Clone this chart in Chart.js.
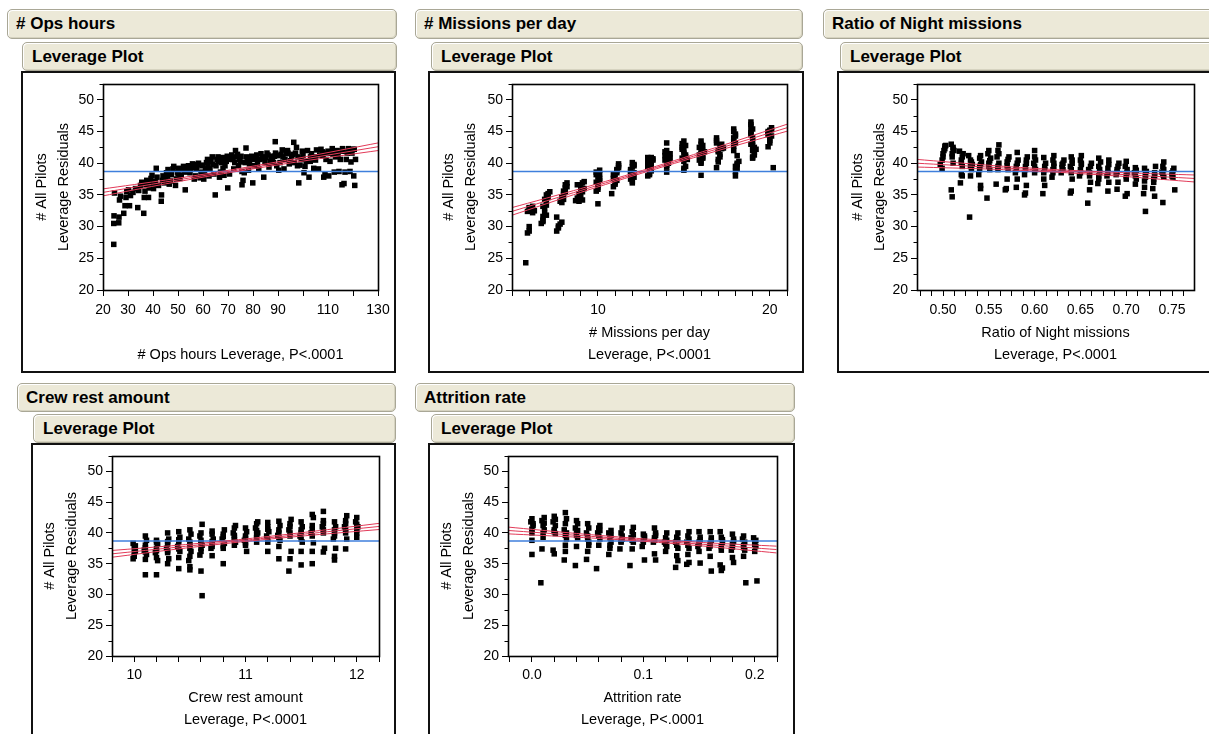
<!DOCTYPE html>
<html><head><meta charset="utf-8">
<script src="https://cdn.jsdelivr.net/npm/chart.js@4/dist/chart.umd.min.js"></script>
<style>
html,body{margin:0;padding:0}
body{width:1209px;height:734px;overflow:hidden;background:#fff;position:relative;font-family:"Liberation Sans",Arial,sans-serif}
.hdr{position:absolute;box-sizing:border-box;background:#ECE9D8;border:1px solid #a9a796;border-radius:5px;
 box-shadow:inset 1px 1px 0 #fff, inset -1px -1px 0 #d6d3c0;font-weight:bold;font-size:17px;color:#000;white-space:nowrap;overflow:hidden}
.frame{position:absolute;box-sizing:border-box;border:2px solid #111;pointer-events:none}
canvas{position:absolute}
</style>
</head><body>
<script>
// ---------- data ----------
const yTickLabels = [20, 25, 30, 35, 40, 45, 50];
const meanLine = 38.7;

// # Ops hours
const opsTickLabels = [20, 30, 40, 50, 60, 70, 80, 90, 110, 130];
const opsX = [24.3,24.3,24.4,26.3,26.4,24.6,26.6,27.0,28.3,28.8,29.2,29.5,30.2,30.6,31.0,32.0,33.0,33.9,34.3,35.0,
35.5,36.3,36.5,36.8,37.2,37.5,38.2,38.5,39.0,39.2,39.6,40.2,40.6,41.0,41.3,41.6,42.2,43.3,43.4,43.8,
44.0,44.5,45.0,45.4,46.0,46.5,47.0,47.4,48.0,48.3,49.0,49.4,49.8,50.3,50.8,51.3,51.8,52.2,52.9,53.2,
53.6,54.2,54.8,55.3,55.8,56.5,57.0,57.3,57.8,58.2,58.8,59.2,59.6,60.3,60.6,61.0,61.4,61.8,62.4,62.8,
63.2,63.7,64.9,64.4,65.2,65.6,66.0,66.6,67.0,67.4,67.8,68.4,68.8,69.3,69.7,69.9,70.6,71.0,71.5,72.3,
72.7,73.0,73.5,74.2,74.6,75.2,75.6,75.6,76.0,76.5,76.9,77.3,77.2,78.2,78.6,79.0,79.5,79.9,80.5,81.0,
81.5,82.3,82.8,83.2,83.7,84.3,84.8,85.2,85.6,86.4,86.9,87.4,88.2,88.6,89.0,88.9,89.5,90.3,90.8,91.2,
91.7,92.4,92.8,93.3,93.8,94.5,95.0,95.5,96.3,96.5,97.0,97.4,97.8,98.3,98.8,99.3,99.7,100.4,100.8,101.3,
101.8,102.4,102.9,103.4,104.3,104.8,105.4,106.2,106.7,107.2,107.7,108.3,108.8,109.2,109.7,110.3,110.8,111.3,111.7,112.5,
113.0,113.6,114.4,114.9,115.3,115.8,115.6,116.4,116.8,117.3,117.7,118.2,118.8,119.2,119.6,120.0,120.3,120.7,121.0,
45.8,50.0,52.5,55.0,57.5,60.0,62.0,64.0,66.3,68.0,70.2,72.0,73.8,75.0,77.8,80.2,81.8,84.0,
86.0,87.8,90.0,92.0,94.0,96.0,98.0,100.0,103.0,105.0,108.0,110.0,112.0,114.0,116.0,118.5,120.5];
const opsY = [27.2,30.5,31.7,30.6,31.5,35.3,34.2,34.8,32.1,33.3,34.6,35.5,35.8,33.3,34.9,35.4,36.0,33.0,35.7,36.5,
37.0,32.1,34.6,35.6,36.6,37.3,34.6,36.1,36.9,37.6,38.1,36.0,36.6,37.1,39.2,37.8,36.5,34.0,35.0,37.3,
38.0,36.9,37.5,38.5,39.0,36.7,37.2,38.2,39.1,39.5,36.5,37.5,38.6,39.2,37.6,38.1,39.0,39.5,35.8,38.6,
39.1,39.6,38.5,39.3,39.9,37.5,38.0,39.1,39.8,40.0,37.7,38.6,39.6,37.5,38.3,39.1,40.1,40.6,38.0,39.1,
40.3,41.0,35.0,38.3,39.6,40.6,41.0,37.8,38.6,40.1,40.9,38.1,39.6,40.3,41.1,36.1,38.3,40.6,41.3,39.1,
40.1,42.0,41.0,39.6,40.6,41.1,38.7,36.6,37.3,38.5,40.1,41.0,42.4,38.9,39.9,40.6,41.1,36.9,39.6,40.6,
41.3,39.1,40.6,41.5,41.0,37.8,40.1,40.9,41.6,39.4,40.3,41.1,40.1,41.1,41.6,43.4,39.6,38.9,40.1,41.4,
42.1,39.1,40.6,41.5,42.0,39.9,40.4,41.1,43.3,40.1,41.6,42.5,39.6,36.9,39.7,40.6,41.9,38.5,39.5,40.3,
42.0,37.8,40.3,41.5,39.2,41.0,42.1,39.1,41.3,42.2,41.8,37.8,38.2,40.6,41.6,38.0,40.3,41.6,42.3,38.6,
41.0,42.0,38.7,40.6,41.9,42.3,36.6,36.8,38.6,40.6,41.6,42.3,38.7,40.2,41.6,42.2,38.0,36.5,40.6,
38.0,38.3,38.9,39.0,39.5,39.7,39.6,39.8,40.3,39.2,40.7,40.6,41.4,40.2,40.5,41.0,40.0,40.8,
41.3,40.6,41.2,41.0,41.6,41.4,41.0,41.2,41.0,40.5,41.2,41.9,41.4,41.3,41.9,41.9,42.2];
const opsFitX = [20, 45, 71, 100, 130];
const opsFit = [35.40, 37.04, 38.74, 40.64, 42.60];
const opsUpper = [35.95, 37.34, 38.94, 40.94, 43.20];
const opsLower = [34.85, 36.74, 38.54, 40.34, 42.00];

// # Missions per day
const missionsTickLabels = [10, 20];
const missionsX = [5.8,5.9,6.0,6.0,5.9,6.1,6.2,6.3,6.0,
6.7,6.8,6.8,6.9,6.9,7.0,7.0,7.1,7.1,7.2,6.8,7.0,
7.6,7.7,7.8,7.9,7.6,7.8,7.9,8.0,8.0,8.1,8.1,8.2,7.9,
8.7,8.8,8.9,9.0,9.0,9.1,9.2,8.8,9.1,
10.0,9.9,10.0,10.0,10.1,10.0,10.1,9.9,10.1,9.9,
10.8,10.9,11.0,10.9,11.0,11.1,11.1,11.2,11.2,10.9,
12.0,11.9,12.0,12.1,11.9,12.0,12.1,12.0,11.9,
12.9,13.0,13.1,12.9,13.0,13.2,13.1,12.9,13.0,
14.0,14.0,14.1,13.9,14.0,14.1,13.9,14.0,14.2,
15.0,15.1,15.0,14.9,15.1,15.0,14.9,14.9,15.0,15.2,
16.0,16.0,15.9,16.1,16.0,16.1,15.9,16.0,16.0,16.2,
16.9,17.0,17.1,17.0,17.2,17.1,16.9,16.9,17.3,
18.0,18.0,18.1,18.1,18.2,17.9,17.9,18.0,17.9,18.0,17.9,18.1,
19.0,19.1,19.0,19.1,18.9,19.0,18.9,18.9,18.9,18.9,19.2,19.0,
19.9,20.0,20.0,19.9,20.0,20.1,20.2,19.9,20.1,
6.0,6.2,6.9,7.0,6.8,8.0,8.1,8.2,7.7,8.9,9.0,9.1,9.2,10.0,10.1,9.9,10.0,
11.0,11.1,11.1,11.2,12.0,12.1,11.9,12.1,13.0,13.1,13.1,12.9,13.2,
14.0,14.1,13.9,14.0,14.2,15.0,15.1,15.0,14.9,15.1,16.0,16.1,15.9,16.0,16.1,
17.0,17.1,17.0,17.2,16.9,18.0,18.1,17.9,18.0,17.9,19.0,19.1,19.0,18.9,19.0,18.9,20.0,19.9,20.1];
const missionsY = [24.3,29.0,29.3,30.0,32.4,32.8,33.2,32.5,33.0,
30.5,31.0,31.6,32.2,33.0,33.4,34.0,34.6,35.2,35.5,33.2,31.8,
29.3,29.8,30.4,30.7,31.5,34.0,34.6,35.1,35.6,36.1,36.6,36.9,33.8,
34.1,34.5,35.2,35.7,36.3,36.9,37.1,36.6,34.2,
33.6,35.6,36.2,36.8,37.3,37.8,38.3,38.6,38.9,37.0,
35.2,36.3,37.0,37.6,38.0,38.5,39.0,39.6,39.9,38.2,
36.9,37.5,38.0,38.5,39.0,39.4,39.8,40.1,38.7,
38.0,38.4,39.0,39.5,40.0,40.5,40.9,40.9,39.2,
38.6,39.4,40.0,40.5,41.0,41.5,41.8,43.2,40.8,
38.9,39.5,40.3,40.8,41.3,42.0,42.5,43.1,43.5,40.6,
38.1,40.0,40.5,41.0,41.5,42.0,42.5,43.0,43.5,41.8,
39.3,40.2,41.0,41.8,42.3,42.7,43.2,44.0,42.4,
38.0,38.7,39.2,39.8,40.3,42.0,42.7,43.2,44.0,44.6,45.4,41.2,
40.8,41.3,42.0,42.5,43.0,43.5,44.5,45.0,45.8,46.5,42.2,44.0,
42.6,43.2,44.0,44.5,45.2,45.6,39.3,45.0,44.3,
32.9,32.2,34.3,35.0,30.8,34.3,35.4,36.3,30.1,34.0,34.8,35.5,36.0,36.5,37.6,38.2,35.9,
36.7,37.3,38.8,39.3,37.2,37.8,38.3,39.6,38.2,38.8,39.8,40.3,40.7,
39.7,40.3,41.2,42.0,41.5,39.2,41.0,41.6,42.2,42.8,40.2,40.8,41.3,42.2,42.8,
40.6,41.4,42.0,43.0,43.6,39.5,40.0,43.5,44.3,45.0,41.0,41.7,42.8,44.8,45.4,46.1,43.6,44.8,45.3];
const missionsFitX = [5, 9, 13, 17, 21];
const missionsFit = [32.4, 35.7, 39.0, 42.3, 45.6];
const missionsUpper = [33.0, 36.0, 39.2, 42.6, 46.15];
const missionsLower = [31.8, 35.4, 38.8, 42.0, 45.05];

// Ratio of Night missions
const nightTickLabels = [0.50, 0.55, 0.60, 0.65, 0.70, 0.75];
const nightX = [0.497,0.499,0.500,0.501,0.502,0.503,0.499,
0.509,0.510,0.511,0.510,0.512,0.509,0.511,
0.519,0.520,0.521,0.520,0.522,0.518,0.521,
0.529,0.530,0.531,0.532,0.530,0.528,
0.541,0.541,0.539,0.540,0.542,0.540,0.541,
0.548,0.551,0.550,0.552,0.549,0.550,
0.558,0.560,0.561,0.559,0.560,0.561,
0.568,0.569,0.570,0.571,0.570,0.572,
0.580,0.581,0.579,0.580,0.582,0.581,
0.589,0.590,0.591,0.589,0.590,0.591,0.592,
0.600,0.601,0.599,0.600,0.600,
0.609,0.611,0.610,0.611,0.612,0.610,
0.619,0.620,0.621,0.620,0.621,
0.629,0.631,0.630,0.632,
0.639,0.640,0.641,0.640,0.639,0.641,0.640,
0.649,0.650,0.651,0.650,0.651,
0.658,0.660,0.661,0.660,0.659,0.662,
0.669,0.670,0.671,0.670,0.672,0.670,
0.680,0.681,0.679,0.680,0.681,
0.690,0.691,0.689,0.690,0.692,
0.699,0.701,0.700,0.701,0.699,0.700,
0.710,0.711,0.709,0.710,
0.721,0.719,0.720,0.721,0.722,0.720,
0.731,0.729,0.730,0.731,0.732,
0.740,0.741,0.739,0.740,0.741,
0.753,0.751,0.750,0.752,
0.500,0.502,0.510,0.511,0.520,0.521,0.530,0.531,0.540,0.541,0.550,0.551,0.560,0.561,0.570,0.571,0.580,0.581,0.590,0.591,0.600,0.601,
0.610,0.611,0.620,0.621,0.630,0.631,0.640,0.641,0.650,0.651,0.660,0.661,0.670,0.671,0.680,0.681,0.690,0.691,0.700,0.701,
0.710,0.711,0.720,0.721,0.730,0.731,0.740,0.741,0.750,0.751];
const nightY = [39.8,40.5,41.5,42.0,42.7,42.8,39.2,
35.8,34.7,40.0,41.0,42.0,43.0,42.5,
36.9,38.2,39.5,40.5,41.5,41.9,38.0,
31.5,38.0,39.0,39.8,40.5,41.2,
36.0,36.5,38.2,39.5,40.2,40.8,41.2,
34.5,39.0,40.0,40.8,41.5,42.0,
36.7,39.0,40.0,41.0,42.0,42.9,
35.8,36.0,37.5,39.0,40.2,41.0,
36.2,37.5,38.5,39.5,40.5,41.7,
35.0,35.3,36.5,38.2,39.0,40.5,41.0,
38.5,39.0,40.0,41.0,42.0,
35.2,36.5,37.5,39.0,40.0,40.9,
37.8,38.5,39.5,40.5,41.2,
38.5,39.0,39.8,40.5,
35.3,35.6,37.5,38.5,39.5,40.5,41.0,
38.0,39.0,39.8,40.5,41.2,
33.7,35.8,37.0,38.0,39.0,40.0,
36.8,37.5,38.5,39.5,40.2,40.8,
35.6,37.0,38.0,39.2,40.5,
35.9,37.0,38.2,39.0,40.0,
34.8,35.2,37.5,38.5,39.5,40.3,
36.7,37.5,38.5,39.3,
32.4,35.2,36.2,37.8,38.7,39.2,
34.8,36.0,37.5,38.5,39.5,
33.8,37.8,38.6,39.5,40.2,
35.8,37.8,38.5,39.2,
41.0,42.3,41.5,42.2,40.0,41.0,39.5,40.2,39.0,39.8,39.5,40.4,39.5,41.5,39.6,40.6,39.0,40.0,39.5,40.0,39.5,40.5,
38.5,39.5,39.0,40.0,39.3,40.0,39.0,40.0,38.5,40.0,38.5,39.5,38.0,39.0,38.5,39.8,38.6,39.5,38.0,39.0,
38.0,38.9,37.2,38.2,37.0,38.0,38.2,39.0,38.0,38.8];
const nightFitX = [0.4716, 0.55, 0.62, 0.70, 0.774];
const nightFit = [40.0, 39.38, 38.82, 38.19, 37.6];
const nightUpper = [40.6, 39.68, 39.02, 38.49, 38.15];
const nightLower = [39.4, 39.08, 38.62, 37.89, 37.05];

// Crew rest amount
const crewTickLabels = [10, 11, 12];
const crewX = [9.99,10.0,10.01,10.0,9.99,
10.1,10.1,10.11,10.09,10.1,10.11,10.1,
10.2,10.21,10.2,10.19,10.2,10.21,10.2,
10.3,10.31,10.3,10.29,10.3,10.31,10.3,
10.4,10.4,10.41,10.39,10.4,10.41,10.4,
10.5,10.5,10.49,10.5,10.51,10.5,10.49,10.5,10.51,
10.61,10.6,10.59,10.6,10.61,10.6,10.59,10.6,10.61,
10.7,10.69,10.7,10.71,10.7,10.7,
10.8,10.8,10.81,10.79,10.8,10.81,
10.9,10.91,10.9,10.89,10.9,10.91,
11.01,11.0,10.99,11.0,11.01,11.0,
11.1,11.1,11.11,11.09,11.1,11.11,
11.2,11.2,11.19,11.21,11.2,11.2,
11.3,11.3,11.31,11.29,11.3,11.31,11.3,
11.39,11.4,11.41,11.4,11.39,11.4,11.41,
11.5,11.5,11.51,11.49,11.5,11.51,11.5,
11.6,11.6,11.61,11.59,11.6,11.61,11.6,
11.7,11.71,11.7,11.69,11.7,11.7,
11.8,11.8,11.81,11.79,11.8,11.81,11.8,
11.9,11.91,11.9,11.89,11.9,11.91,
12.0,12.0,12.01,11.99,12.0,
10.0,10.01,10.1,10.1,10.2,10.2,10.3,10.3,10.4,10.4,10.5,10.5,10.6,10.6,10.7,10.7,10.8,10.8,10.9,10.9,11.0,11.0,
11.1,11.1,11.2,11.2,11.3,11.3,11.4,11.4,11.5,11.5,11.6,11.6,11.7,11.7,11.8,11.8,11.9,11.9,12.0,12.0];
const crewY = [35.8,36.2,37.0,37.5,38.3,
33.2,35.7,36.5,37.2,38.0,38.8,39.5,
33.2,35.5,36.0,36.8,37.5,38.2,38.8,
35.0,35.8,36.8,37.5,38.2,39.0,40.0,
34.2,36.0,37.0,37.8,38.5,39.3,40.2,
34.0,34.5,35.5,36.2,37.0,38.0,39.0,40.5,39.8,
29.8,33.8,36.4,37.0,38.0,38.8,39.5,40.0,41.4,
36.3,37.5,38.2,39.0,39.8,40.3,
35.0,37.5,38.3,39.0,39.8,40.5,
38.0,38.5,39.3,40.0,40.8,41.2,
37.0,38.0,38.8,39.5,40.2,40.8,
38.5,39.2,40.0,40.8,41.5,41.8,
37.0,38.5,39.5,40.2,41.0,41.7,
35.8,37.8,38.8,39.6,40.5,41.2,41.9,
33.8,35.8,37.0,39.5,40.5,41.5,42.2,
34.8,37.0,38.5,39.5,40.0,41.0,41.8,
35.0,37.0,38.4,40.0,41.2,42.5,43.0,
36.9,37.5,40.0,41.0,42.0,43.5,
35.6,36.2,37.5,39.0,40.0,41.0,41.8,
37.4,39.0,40.0,41.0,42.0,42.8,
39.3,40.0,41.0,41.8,42.5,
36.6,37.9,36.9,37.6,37.1,38.5,37.1,38.6,37.4,38.9,37.5,38.5,37.5,38.4,37.8,38.6,37.9,39.4,38.9,39.6,38.4,39.1,
39.6,40.4,39.0,40.6,39.2,40.0,40.0,41.0,39.0,40.5,39.5,40.6,40.5,41.5,39.5,40.5,40.5,41.5,40.5,41.4];
const crewFitX = [9.8, 10.4, 11.0, 11.6, 12.2];
const crewFit = [36.6, 37.71, 38.82, 39.94, 41.05];
const crewUpper = [37.15, 38.01, 39.02, 40.24, 41.55];
const crewLower = [36.05, 37.41, 38.62, 39.64, 40.55];

// Attrition rate
const attritionTickLabels = [0.0, 0.1, 0.2];
const attritionX = [0.0,0.0,0.0,0.001,-0.001,0.0,
0.008,0.009,0.010,0.011,0.010,0.009,0.011,
0.020,0.019,0.021,0.020,0.021,0.019,0.020,
0.029,0.030,0.030,0.031,0.029,0.030,0.031,0.030,
0.039,0.040,0.041,0.040,0.039,0.041,0.040,
0.049,0.050,0.051,0.050,0.049,0.051,0.050,
0.058,0.060,0.061,0.059,0.060,0.061,
0.069,0.070,0.071,0.070,0.069,0.071,
0.079,0.080,0.081,0.080,0.081,
0.088,0.090,0.091,0.089,0.090,0.091,
0.101,0.099,0.100,0.101,0.100,
0.111,0.110,0.109,0.110,0.111,0.110,
0.120,0.121,0.119,0.120,0.121,
0.129,0.131,0.130,0.131,0.129,0.130,0.131,
0.139,0.141,0.140,0.141,0.139,0.140,0.141,
0.151,0.150,0.149,0.150,0.151,0.150,
0.161,0.160,0.159,0.160,0.161,0.160,
0.170,0.171,0.169,0.170,0.171,0.170,0.169,
0.181,0.180,0.179,0.180,0.181,0.180,
0.192,0.190,0.191,0.190,0.189,0.190,
0.202,0.200,0.201,0.200,0.199,
0.000,0.001,0.010,0.011,0.020,0.021,0.030,0.031,0.040,0.041,0.050,0.051,0.060,0.061,0.070,0.071,0.080,0.081,0.090,0.091,0.100,0.101,
0.110,0.111,0.120,0.121,0.130,0.131,0.140,0.141,0.150,0.151,0.160,0.161,0.170,0.171,0.180,0.181,0.190,0.191,0.200,0.201];
const attritionY = [36.5,38.8,40.0,41.2,41.8,42.3,
31.9,37.4,39.3,40.5,41.2,42.0,42.5,
36.6,37.2,39.9,40.5,41.2,41.8,42.7,
35.6,37.0,38.0,39.0,40.5,41.5,42.3,43.3,
34.7,37.8,39.2,40.0,40.8,41.5,42.0,
35.7,37.0,38.0,39.0,40.0,40.8,41.5,
34.2,38.0,39.0,40.0,40.8,41.2,
36.5,37.5,38.5,39.2,40.0,40.4,
37.4,38.5,39.0,40.0,40.8,
34.7,37.4,38.5,39.2,40.2,40.9,
35.6,37.8,38.5,39.2,39.8,
35.6,36.6,38.5,39.2,40.0,40.8,
37.0,37.8,38.5,39.2,40.0,
34.4,35.5,36.3,37.5,38.5,39.3,40.0,
34.9,35.2,36.5,37.5,38.5,39.5,40.2,
35.1,37.0,37.8,38.5,39.3,40.2,
33.8,36.2,37.5,38.3,39.2,40.2,
33.9,34.3,34.8,37.2,38.5,39.3,40.2,
35.2,36.0,37.2,38.2,39.0,39.8,
31.9,36.2,37.2,38.0,39.0,39.5,
32.2,37.0,37.8,38.5,39.2,
40.6,41.5,40.0,41.6,40.2,42.2,39.6,40.0,39.6,40.4,39.5,38.5,39.5,40.4,38.0,39.6,38.7,39.5,38.8,39.7,38.8,39.5,
38.8,39.6,38.2,38.8,38.0,38.9,38.0,39.0,38.2,38.9,37.9,38.8,37.8,38.9,37.7,38.6,37.6,38.5,38.1,38.8];
const attritionFitX = [-0.0215, 0.04, 0.10, 0.16, 0.2195];
const attritionFit = [40.4, 39.61, 38.84, 38.07, 37.3];
const attritionUpper = [40.95, 39.91, 39.04, 38.37, 37.85];
const attritionLower = [39.85, 39.31, 38.64, 37.77, 36.75];

// ---------- layout (page pixels) ----------
const FONT = "'Liberation Sans', Arial, sans-serif";
const RED = '#e23a58', BLUE = '#3f7fdc';

const panels = [
  {title:'# Ops hours', outer:[7,9,397,39], inner:[22,42,397,71], frame:[21,71,396,373], plot:[103,84,378,290],
   xmin:20, xmax:130, step:10, labels:opsTickLabels, dec:0, xs:opsX, ys:opsY,
   fx:opsFitX, f:opsFit, fu:opsUpper, fl:opsLower, xTitle:['# Ops hours Leverage, P<.0001'], row:0},
  {title:'# Missions per day', outer:[415,9,803,39], inner:[431,42,803,71], frame:[428,71,804,373], plot:[512,84,787,290],
   xmin:5, xmax:21, step:1, labels:missionsTickLabels, dec:0, xs:missionsX, ys:missionsY,
   fx:missionsFitX, f:missionsFit, fu:missionsUpper, fl:missionsLower, xTitle:['# Missions per day','Leverage, P<.0001'], row:0},
  {title:'Ratio of Night missions', outer:[823,9,1215,39], inner:[840,42,1215,71], frame:[837,71,1216,373], plot:[917,84,1194,290],
   xmin:0.4716, xmax:0.774, step:0.0125, labels:nightTickLabels, dec:2, xs:nightX, ys:nightY,
   fx:nightFitX, f:nightFit, fu:nightUpper, fl:nightLower, xTitle:['Ratio of Night missions','Leverage, P<.0001'], row:0},
  {title:'Crew rest amount', outer:[17,383,396,412], inner:[33,414,396,443], frame:[31,443,396,743], plot:[112,456,379,656],
   xmin:9.8, xmax:12.2, step:0.2, labels:crewTickLabels, dec:0, xs:crewX, ys:crewY,
   fx:crewFitX, f:crewFit, fu:crewUpper, fl:crewLower, xTitle:['Crew rest amount','Leverage, P<.0001'], row:1},
  {title:'Attrition rate', outer:[415,383,795,412], inner:[431,414,795,443], frame:[428,443,795,743], plot:[508,456,777,656],
   xmin:-0.0215, xmax:0.22, step:0.02, labels:attritionTickLabels, dec:1, xs:attritionX, ys:attritionY,
   fx:attritionFitX, f:attritionFit, fu:attritionUpper, fl:attritionLower, xTitle:['Attrition rate','Leverage, P<.0001'], row:1}
];

function addDiv(cls, box, text, indent){
  const d = document.createElement('div');
  d.className = cls;
  d.style.left = box[0]+'px'; d.style.top = box[1]+'px';
  d.style.width = (box[2]-box[0])+'px'; d.style.height = (box[3]-box[1])+'px';
  if (text !== undefined){ d.textContent = text; d.style.lineHeight = (box[3]-box[1]-2)+'px'; d.style.paddingLeft = indent+'px'; }
  document.body.appendChild(d);
  return d;
}

const isMajor5 = v => Math.abs(v/5 - Math.round(v/5)) < 1e-6;

const boxPlugin = {
  id:'boxPlugin',
  afterDraw(chart){
    const {ctx, chartArea:a} = chart;
    const y = chart.scales.y;
    ctx.save();
    ctx.strokeStyle = '#000';
    ctx.lineWidth = 1;
    y.ticks.forEach(t => {
      if (!isMajor5(t.value)) {
        const py = Math.round(y.getPixelForValue(t.value)) + 0.5;
        ctx.beginPath(); ctx.moveTo(a.left - 3.5, py); ctx.lineTo(a.left, py); ctx.stroke();
      }
    });
    ctx.lineWidth = 1.6;
    ctx.strokeRect(Math.round(a.left)+0.5, Math.round(a.top)+0.5, Math.round(a.right-a.left), Math.round(a.bottom-a.top));
    ctx.restore();
  }
};

panels.forEach((p, i) => {
  addDiv('hdr', p.outer, p.title, 8);
  addDiv('hdr', p.inner, 'Leverage Plot', 9);
  const [fl, ft, fr, fb] = p.frame;
  const [pl, pt, pr, pb] = p.plot;
  const cv = document.createElement('canvas');
  cv.width = fr - fl; cv.height = fb - ft;
  cv.style.left = fl+'px'; cv.style.top = ft+'px';
  cv.style.width = (fr-fl)+'px'; cv.style.height = (fb-ft)+'px';
  document.body.appendChild(cv);
  addDiv('frame', p.frame);

  const yW = pl - fl, xH = fb - pb;
  const pts = p.xs.slice(0, Math.min(p.xs.length, p.ys.length)).map((x, k) => ({x, y: p.ys[k]}));
  const curve = arr => p.fx.map((x, k) => ({x, y: arr[k]}));
  const lineDs = (data, color, w) => ({type:'line', data, borderColor:color, borderWidth:w, pointRadius:0, fill:false, tension:0.25});
  const top = p.row === 0;

  new Chart(cv.getContext('2d'), {
    type:'scatter',
    data:{datasets:[
      lineDs(curve(p.fu), RED, 1),
      lineDs(curve(p.f), RED, 1),
      lineDs(curve(p.fl), RED, 1),
      lineDs([{x:p.xmin, y:meanLine},{x:p.xmax, y:meanLine}], BLUE, 1.5),
      {data:pts, pointStyle:'rect', pointRadius:3.9, pointHoverRadius:3.9, backgroundColor:'#000', borderWidth:0}
    ]},
    options:{
      responsive:false, animation:false, devicePixelRatio:1,
      events:[],
      layout:{padding:{left:0, top:pt-ft, right:fr-pr, bottom:0}},
      plugins:{legend:{display:false}, tooltip:{enabled:false}},
      scales:{
        x:{type:'linear', min:p.xmin, max:p.xmax,
           afterFit:s => { s.height = xH; },
           border:{display:false},
           grid:{drawOnChartArea:false, drawTicks:true, tickLength:6, tickColor:'#000', tickWidth:1},
           ticks:{stepSize:p.step, autoSkip:false, maxRotation:0, minRotation:0, includeBounds:false,
             color:'#000', font:{family:FONT, size:14}, padding: top ? 5.6 : 4.6,
             callback:(v) => { const m = p.labels.find(l => Math.abs(l - v) < p.step/100); return m === undefined ? '' : m.toFixed(p.dec); }},
           title:{display:true, text:p.xTitle, color:'#000', font:{family:FONT, size:14.5, lineHeight:'22px'},
             padding:{top:0, bottom: top ? 7 : 12}}
        },
        y:{type:'linear', min:20, max:52.5,
           afterFit:s => { s.width = yW; },
           border:{display:false},
           grid:{drawOnChartArea:false, drawTicks:true, tickLength:6, tickWidth:1,
             tickColor:(c) => (c.tick && isMajor5(c.tick.value)) ? '#000' : 'rgba(0,0,0,0)'},
           ticks:{stepSize:2.5, autoSkip:false, includeBounds:false, color:'#000', font:{family:FONT, size:14}, padding:3,
             callback:(v) => { const m = yTickLabels.find(l => Math.abs(l - v) < 0.01); return m === undefined ? '' : String(m); }},
           title:{display:true, text:['# All Pilots','Leverage Residuals'], color:'#000',
             font:{family:FONT, size:14.5, lineHeight: top ? '21.5px' : '22px'},
             padding:{top: top ? 10.3 : 7.5, bottom:0}}
        }
      }
    },
    plugins:[boxPlugin]
  });
});
</script>
</body></html>
